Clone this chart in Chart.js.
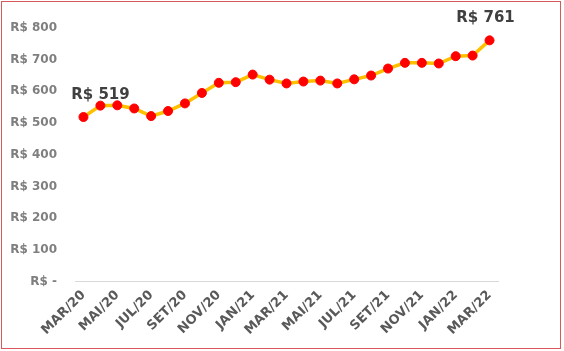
<!DOCTYPE html>
<html>
<head>
<meta charset="utf-8">
<script src="https://cdn.jsdelivr.net/npm/chart.js@4.4.1/dist/chart.umd.min.js"></script>
<style>
  html, body { margin: 0; padding: 0; background: #fff; overflow: hidden; }
  #wrap { position: absolute; left: 0; top: 0; width: 564px; height: 351px; }
  #frame { position: absolute; left: 1px; top: 1px; width: 560px; height: 348px; border: 1.5px solid #d9595a; box-sizing: border-box; pointer-events: none; }
</style>
</head>
<body>
<div id="wrap"><canvas id="c"></canvas></div>
<div id="frame"></div>
<script>
const months = ["MAR/20","ABR/20","MAI/20","JUN/20","JUL/20","AGO/20","SET/20","OUT/20","NOV/20","DEZ/20",
  "JAN/21","FEV/21","MAR/21","ABR/21","MAI/21","JUN/21","JUL/21","AGO/21","SET/21","OUT/21","NOV/21","DEZ/21",
  "JAN/22","FEV/22","MAR/22"];
const prices = [519,555,556,546,522,538,562,595,627,629,653,637,625,631,634,625,638,650,672,690,690,688,711,713,761];
const yTicks = [0,100,200,300,400,500,600,700,800];
const labelledPoints = [0, 24];

const fmt = v => v === 0 ? "R$ -" : "R$ " + v;

const endLabels = {
  id: "endLabels",
  afterDatasetsDraw(chart) {
    const ctx = chart.ctx;
    const meta = chart.getDatasetMeta(0);
    ctx.save();
    ctx.font = "bold 15px 'DejaVu Sans'";
    ctx.fillStyle = "#404040";
    ctx.textAlign = "center";
    ctx.textBaseline = "middle";
    labelledPoints.forEach(i => {
      const p = meta.data[i];
      const dx = i === 0 ? 17 : -4;
      ctx.fillText(fmt(prices[i]), p.x + dx, p.y - 22);
    });
    ctx.restore();
  }
};

new Chart(document.getElementById("c"), {
  type: "line",
  data: {
    labels: months,
    datasets: [{
      data: prices,
      borderColor: "#ffc000",
      borderWidth: 3.5,
      pointBackgroundColor: "#ff0000",
      pointBorderColor: "#ff0000",
      pointBorderWidth: 1,
      pointRadius: 4.5,
      pointHoverRadius: 4.5,
      tension: 0
    }]
  },
  options: {
    responsive: true,
    maintainAspectRatio: false,
    animation: false,
    layout: { padding: { top: 28, right: 66, left: 9, bottom: 7 } },
    plugins: { legend: { display: false }, tooltip: { enabled: false } },
    scales: {
      x: {
        offset: true,
        afterFit: axis => { axis.paddingLeft = 0; axis.paddingRight = 0; },
        grid: { display: false, drawTicks: false },
        border: { display: true, color: "#d9d9d9", width: 1 },
        ticks: {
          autoSkip: false,
          maxRotation: 45,
          minRotation: 45,
          padding: 6,
          color: "#595959",
          font: { family: "'DejaVu Sans'", weight: "bold", size: 13 },
          callback: function(v, i) { return i % 2 === 0 ? months[i] : ""; }
        }
      },
      y: {
        min: 0,
        max: 800,
        afterBuildTicks: axis => { axis.ticks = yTicks.map(v => ({ value: v })); },
        afterFit: axis => { axis.width = 66; },
        grid: { display: false, drawTicks: false },
        border: { display: false },
        ticks: {
          padding: 18,
          color: "#7f7f7f",
          font: { family: "'DejaVu Sans'", weight: "bold", size: 12 },
          callback: v => fmt(v)
        }
      }
    }
  },
  plugins: [endLabels]
});
</script>
</body>
</html>
